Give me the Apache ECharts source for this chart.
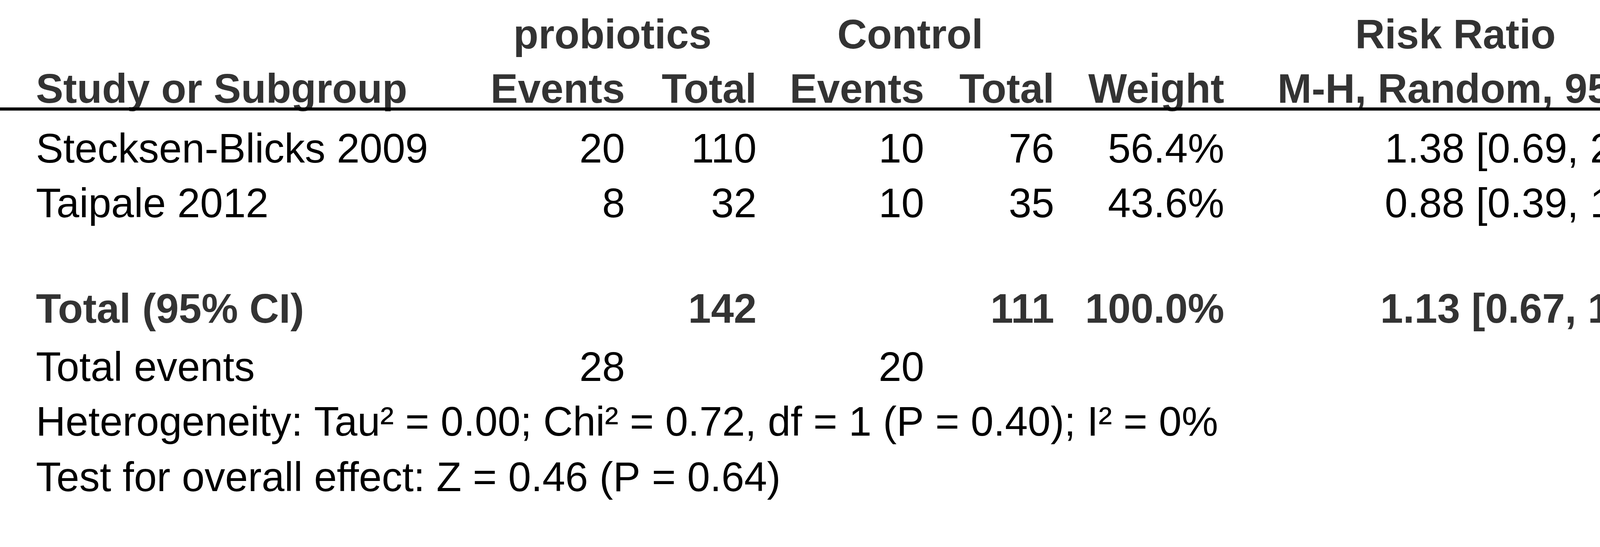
<!DOCTYPE html>
<html lang="en">
<head>
  <meta charset="UTF-8">
  <title>Forest plot</title>
  <style>html, body { margin: 0; padding: 0; background: #fff; }</style>
</head>
<body>
<div id="main" style="width: 6938px;height: 1400px"></div>
<script type="text/javascript" src="https://cdn.jsdelivr.net/npm/echarts@6/dist/echarts.min.js"></script>

<script>
// studies
var studies = ['Stecksen-Blicks 2009', 'Taipale 2012'];
var probEvents = [20, 8];
var probTotal = [110, 32];
var ctrlEvents = [10, 10];
var ctrlTotal = [76, 35];
var weights = [56.4, 43.6];
var riskRatio = [1.38, 0.88];
var ciLow = [0.69, 0.39];
var ciHigh = [2.78, 1.94];

// pooled
var pooled = [1.13, 0.67, 1.92]; // RR, low, high
var pooledTotals = [142, 111];
var pooledWeight = 100.0;
var totalEvents = [28, 20];
var heterogeneityText = 'Heterogeneity: Tau² = 0.00; Chi² = 0.72, df = 1 (P = 0.40); I² = 0%';
var overallText = 'Test for overall effect: Z = 0.46 (P = 0.64)';

var xTicks = [0.01, 0.1, 1, 10, 100];
var favours = ['Favours [probiotics]', 'Favours [control]'];

// layout
var FONT = '"Liberation Sans", Arial, sans-serif';
var FS = 105;
var pooledRow = 3;
var ciColors = ['#333333', '#000000'];

function fmt(v) { return v.toFixed(2); }
function ciText(rr, lo, hi) { return fmt(rr) + ' [' + fmt(lo) + ', ' + fmt(hi) + ']'; }

var chart = echarts.init(document.getElementById('main'));

var axisBase = {
  type: 'log',
  logBase: 10,
  min: xTicks[0],
  max: xTicks[xTicks.length - 1],
  position: 'bottom',
  axisLine: { show: true, onZero: false, lineStyle: { color: '#000', width: 9 } },
  splitLine: { show: false },
  minorTick: { show: false }
};

chart.setOption({
  animation: false,
  backgroundColor: '#fff',
  grid: { left: 4392, width: 2450, top: 279, height: 772, outerBoundsMode: 'none' },
  xAxis: [
    // ticks below the line + labels
    Object.assign({}, axisBase, {
      axisTick: { show: true, inside: false, length: 34, lineStyle: { color: '#000', width: 9 } },
      axisLabel: {
        margin: 57, color: '#000', fontFamily: FONT, fontSize: FS,
        alignMinLabel: 'left', alignMaxLabel: 'right',
        formatter: function (v) { return String(+v.toPrecision(3)); }
      }
    }),
    // ticks above the line
    Object.assign({}, axisBase, {
      axisTick: { show: true, inside: true, length: 35, lineStyle: { color: '#000', width: 9 } },
      axisLabel: { show: false }
    })
  ],
  yAxis: { type: 'value', min: -0.5, max: 5, inverse: true, show: false },
  series: [
    {
      // line of no effect
      type: 'line',
      data: [[1, -0.5], [1, 5]],
      symbol: 'none',
      lineStyle: { color: '#333', width: 8 },
      z: 1
    },
    {
      type: 'custom',
      data: studies.map(function (s, i) { return [ciLow[i], ciHigh[i], i]; }),
      encode: { x: [0, 1], y: 2 },
      renderItem: function (params, api) {
        var a = api.coord([api.value(0), api.value(2)]);
        var b = api.coord([api.value(1), api.value(2)]);
        return {
          type: 'line',
          shape: { x1: a[0], y1: a[1], x2: b[0], y2: b[1] },
          style: { stroke: ciColors[params.dataIndex], lineWidth: 8 }
        };
      },
      z: 2
    },
    {
      type: 'scatter',
      data: riskRatio.map(function (v, i) { return [v, i]; }),
      symbol: 'rect',
      symbolSize: function (val, p) { return weights[p.dataIndex] * 1.73; },
      symbolOffset: [0, 9],
      itemStyle: { color: '#0000c0', opacity: 1 },
      z: 3
    },
    {
      type: 'custom',
      data: [[pooled[1], pooled[0], pooled[2], pooledRow]],
      encode: { x: [0, 1, 2], y: 3 },
      renderItem: function (params, api) {
        var lo = api.coord([api.value(0), api.value(3)]);
        var mid = api.coord([api.value(1), api.value(3)]);
        var hi = api.coord([api.value(2), api.value(3)]);
        var h = 61;
        return {
          type: 'polygon',
          shape: { points: [[lo[0], lo[1]], [mid[0], mid[1] - h], [hi[0], hi[1]], [mid[0], mid[1] + h]] },
          style: { fill: '#000' }
        };
      },
      z: 3
    }
  ]
});

// table text placed on the same row scale as the plot
function rowY(r) { return chart.convertToPixel({ gridIndex: 0 }, [1, r])[1]; }
function xPix(v) { return chart.convertToPixel({ gridIndex: 0 }, [v, 0])[0]; }

var COL = { study: 92, pe: 1600, pt: 1937, ce: 2366, ct: 2699, w: 3134, ci: 4304 };
var els = [];
function txt(str, x, row, align, bold, color) {
  els.push({
    type: 'text',
    x: x,
    y: rowY(row) + 38,
    style: {
      text: String(str),
      align: align,
      verticalAlign: 'middle',
      fill: color || '#000',
      font: (bold ? 'bold ' : '') + FS + 'px ' + FONT
    }
  });
}

var H1 = -2.08, H2 = -1.09;
txt('probiotics', 1568, H1, 'center', true, '#333');
txt('Control', 2330, H1, 'center', true, '#333');
txt('Risk Ratio', 3726, H1, 'center', true, '#333');
txt('Risk Ratio', xPix(1) + 3, H1, 'center', true, '#333');
txt('Study or Subgroup', COL.study, H2, 'left', true, '#333');
txt('Events', COL.pe, H2, 'right', true, '#333');
txt('Total', COL.pt, H2, 'right', true, '#333');
txt('Events', COL.ce, H2, 'right', true, '#333');
txt('Total', COL.ct, H2, 'right', true, '#333');
txt('Weight', COL.w, H2, 'right', true, '#333');
txt('M-H, Random, 95% CI', 3810, H2, 'center', true, '#333');
txt('M-H, Random, 95% CI', xPix(1) + 24, H2, 'center', true, '#333');

studies.forEach(function (s, i) {
  txt(s, COL.study, i, 'left');
  txt(probEvents[i], COL.pe, i, 'right');
  txt(probTotal[i], COL.pt, i, 'right');
  txt(ctrlEvents[i], COL.ce, i, 'right');
  txt(ctrlTotal[i], COL.ct, i, 'right');
  txt(weights[i].toFixed(1) + '%', COL.w, i, 'right');
  txt(ciText(riskRatio[i], ciLow[i], ciHigh[i]), COL.ci, i, 'right');
});

var TR = pooledRow - 0.08;
txt('Total (95% CI)', COL.study, TR, 'left', true, '#333');
txt(pooledTotals[0], COL.pt, TR, 'right', true, '#333');
txt(pooledTotals[1], COL.ct, TR, 'right', true, '#333');
txt(pooledWeight.toFixed(1) + '%', COL.w, TR, 'right', true, '#333');
txt(ciText(pooled[0], pooled[1], pooled[2]), COL.ci, TR, 'right', true, '#333');

txt('Total events', COL.study, 3.98, 'left');
txt(totalEvents[0], COL.pe, 3.98, 'right');
txt(totalEvents[1], COL.ce, 3.98, 'right');
txt(heterogeneityText, COL.study, 4.98, 'left');
txt(overallText, COL.study, 5.99, 'left');

// favours labels under the axis
txt(favours[0], xPix(1) - 71, 6.41, 'right', false, '#333');
txt(favours[1], xPix(1) + 49, 6.41, 'left', false, '#333');

// rule under the column headers
var ruleY = rowY(-0.5);
els.push({
  type: 'line',
  shape: { x1: 0, y1: ruleY, x2: 6938, y2: ruleY },
  style: { stroke: '#000', lineWidth: 8 },
  z: 10
});

chart.setOption({ graphic: { elements: els } });
</script>
</body>
</html>
